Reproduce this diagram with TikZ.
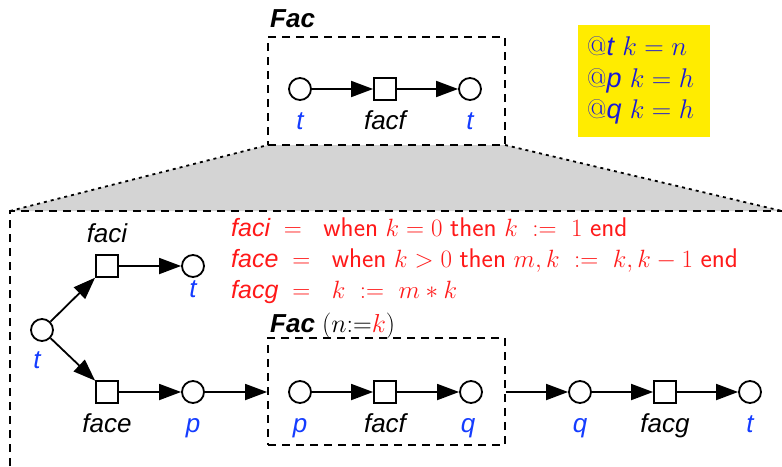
\documentclass[tikz,border=0pt]{standalone}
\usepackage{fix-cm}
\usepackage{graphicx}
\usepackage[no-math]{fontspec}
\newfontfamily\hel{Liberation Sans}
\usetikzlibrary{arrows.meta,positioning}
\definecolor{pnblue}{RGB}{20,60,255}
\definecolor{hypblue}{RGB}{25,25,215}
\definecolor{pnred}{RGB}{255,25,25}
\definecolor{hypyellow}{RGB}{255,236,0}
\definecolor{zoomgray}{RGB}{212,212,212}
\newcommand\kw[1]{\scalebox{0.75}{\fontsize{36}{40}\selectfont$\mathsf{#1}$}}
\newcommand\tn[1]{\mbox{\hel\itshape\fontsize{25}{28}\selectfont #1}}
\tikzset{
  place/.style={circle, draw, line width=1.8pt, minimum size=22pt, inner sep=0pt},
  trans/.style={rectangle, draw, line width=1.8pt, minimum size=22pt, inner sep=0pt},
  arc/.style={line width=1.8pt, -{Triangle[length=22pt,width=16pt]}},
  frame/.style={line width=1.8pt, dash pattern=on 8pt off 6pt},
  lbl/.style={anchor=base, inner sep=0pt, font=\hel\itshape\fontsize{26}{28}\selectfont},
  var/.style={lbl, text=pnblue},
  title/.style={anchor=base west, inner sep=0pt, font=\hel\bfseries\itshape\fontsize{26}{28}\selectfont},
  rule/.style={anchor=base west, inner sep=0pt, text=pnred, font=\fontsize{25}{30}\selectfont},
  hyp/.style={anchor=base west, inner sep=0pt, text=hypblue, font=\fontsize{27}{30}\selectfont},
}
\begin{document}
\begin{tikzpicture}[x=1pt, y=-1pt]
  \useasboundingbox (0,0) rectangle (782,466);
  % zoom funnel
  \coordinate (zl) at (268,145);
  \coordinate (zr) at (505,145);
  \coordinate (bigtl) at (10,211);
  \coordinate (bigtr) at (782,211);
  \coordinate (bigbl) at (10,466);
  \fill[zoomgray] (zl) -- (zr) -- (bigtr) -- (bigtl) -- cycle;
  \draw[line width=1.8pt, dash pattern=on 3pt off 4pt] (bigtl) -- (zl) (zr) -- (bigtr);
  \draw[frame] (bigbl) -- (bigtl) -- (bigtr);

  % outer component
  \node[frame, draw, minimum width=237pt, minimum height=108pt] (facbox) at (386.5,91) {};
  \node[title] (factitle) at (270,27) {Fac};
  \node[place] (ta) at (300,89) {};
  \node[trans] (facfa) at (385,89) {};
  \node[place] (tb) at (470,89) {};
  \draw[arc] (ta) -- (facfa);
  \draw[arc] (facfa) -- (tb);
  \node[var] (tal) at (300,129) {t};
  \node[lbl] (facfal) at (385,129) {facf};
  \node[var] (tbl) at (470,129) {t};

  % hypotheses
  \node[fill=hypyellow, minimum width=132pt, minimum height=112pt, inner sep=0pt] (hypbox) at (644,81) {};
  \node[hyp] (hypt) at (587,55) {$@${\hel\itshape t}\ $k=n$};
  \node[hyp] (hypp) at (587,87) {$@${\hel\itshape p}\ $k=h$};
  \node[hyp] (hypq) at (587,118) {$@${\hel\itshape q}\ $k=h$};

  % expansion
  \node[place] (t1) at (42,330) {};
  \node[trans] (faci) at (107,266) {};
  \node[place] (t2) at (193,266) {};
  \node[trans] (face) at (107,392) {};
  \node[place] (p1) at (193,392) {};
  \draw[arc] (t1) -- (faci);
  \draw[arc] (t1) -- (face);
  \draw[arc] (faci) -- (t2);
  \draw[arc] (face) -- (p1);
  \node[var] (t1l) at (37,368) {t};
  \node[lbl] (facil) at (107,242) {faci};
  \node[var] (t2l) at (193,297) {t};
  \node[lbl] (facel) at (107,432) {face};
  \node[var] (p1l) at (193,432) {p};

  \node[frame, draw, minimum width=237pt, minimum height=107pt] (facin) at (386.5,391.5) {};
  \node[title] (facintitle) at (270,332) {Fac {\normalfont\fontsize{26}{28}\selectfont$(n{:=}\textcolor{pnred}{k})$}};
  \node[place] (p2) at (300,392) {};
  \node[trans] (facfb) at (385,392) {};
  \node[place] (q1) at (471,392) {};
  \node[place] (q2) at (580,392) {};
  \node[trans] (facg) at (665,392) {};
  \node[place] (t3) at (750,392) {};
  \draw[arc] (p1) -- (p1 -| facin.west);
  \draw[arc] (p2) -- (facfb);
  \draw[arc] (facfb) -- (q1);
  \draw[arc] (q2 -| facin.east) -- (q2);
  \draw[arc] (q2) -- (facg);
  \draw[arc] (facg) -- (t3);
  \node[var] (p2l) at (300,432) {p};
  \node[lbl] (facfbl) at (385,432) {facf};
  \node[var] (q1l) at (468,432) {q};
  \node[var] (q2l) at (580,432) {q};
  \node[lbl] (facgl) at (665,432) {facg};
  \node[var] (t3l) at (750,432) {t};

  % guards and actions
  \node[rule] (ruleci) at (231,236) {$\tn{faci}\;=\;\ \kw{when}\ k=0\ \kw{then}\ k\ \mathrel{:=}\ 1\ \kw{end}$};
  \node[rule] (rulece) at (231,267) {$\tn{face}\;=\;\ \kw{when}\ k>0\ \kw{then}\ m,k\ \mathrel{:=}\ k,k-1\ \kw{end}$};
  \node[rule] (rulecg) at (231,298) {$\tn{facg}\;=\;\ k\ \mathrel{:=}\ m*k$};
\end{tikzpicture}
\end{document}
